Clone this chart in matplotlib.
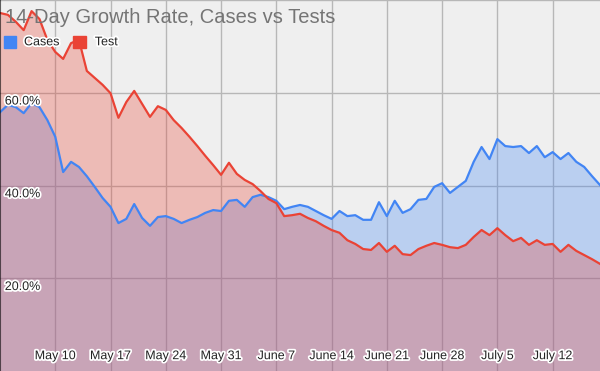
import matplotlib
matplotlib.use("Agg")
import matplotlib.pyplot as plt
import matplotlib.patheffects as pe
import pandas as pd

plt.rcParams['font.family'] = ['Liberation Sans', 'DejaVu Sans']

dates = pd.date_range("2020-05-03", "2020-07-18", freq="D")

# 14-day growth rate (%)
cases = [55.8, 57.4, 56.9, 55.6, 57.8, 56.9, 54.1, 50.5, 42.9, 45.1,
         44.0, 42.0, 39.7, 37.3, 35.4, 31.9, 32.8, 36.0, 33.0, 31.3,
         33.2, 33.4, 32.8, 31.9, 32.6, 33.2, 34.1, 34.7, 34.5, 36.7,
         36.9, 35.4, 37.5, 38.0, 37.5, 36.7, 34.9, 35.4, 35.8, 35.4,
         34.5, 33.6, 32.8, 34.5, 33.4, 33.6, 32.6, 32.6, 36.4, 33.4,
         36.7, 34.1, 34.9, 36.9, 37.1, 39.7, 40.5, 38.4, 39.7, 41.0,
         45.1, 48.3, 45.7, 50.0, 48.5, 48.3, 48.5, 47.0, 48.5, 46.1,
         47.2, 45.7, 47.0, 45.1, 44.0, 42.0, 40.1]
tests = [77.2, 76.8, 75.3, 73.5, 77.6, 75.9, 71.4, 68.8, 67.3, 70.7,
         71.4, 64.7, 63.2, 61.7, 59.9, 54.6, 58.0, 60.4, 57.6, 54.8,
         57.1, 56.3, 54.1, 52.4, 50.5, 48.5, 46.4, 44.4, 42.3, 44.9,
         42.5, 41.2, 40.3, 38.8, 37.1, 36.2, 33.4, 33.6, 33.9, 33.0,
         32.3, 31.3, 30.4, 29.8, 28.2, 27.4, 26.3, 26.1, 27.6, 25.7,
         27.0, 25.2, 25.0, 26.3, 27.0, 27.6, 27.2, 26.7, 26.5, 27.2,
         28.9, 30.4, 29.3, 30.8, 29.3, 28.0, 28.7, 27.2, 28.2, 27.2,
         27.4, 25.7, 27.2, 25.9, 25.0, 24.1, 23.1]

tick_dates = pd.date_range("2020-05-10", "2020-07-12", freq="7D")
tick_labels = ["May 10", "May 17", "May 24", "May 31", "June 7", "June 14",
               "June 21", "June 28", "July 5", "July 12"]
y_ticks = [20, 40, 60]

blue = "#4285f4"
red = "#ea4335"
halo = [pe.withStroke(linewidth=2.5, foreground="white")]

fig = plt.figure(figsize=(6, 3.71), dpi=100)
ax = fig.add_axes([0, 0, 1, 1])
ax.set_facecolor("#efefef")

ax.fill_between(dates, cases, 0, color=blue, alpha=0.3, lw=0)
ax.fill_between(dates, tests, 0, color=red, alpha=0.3, lw=0)
ax.plot(dates, cases, color=blue, lw=1.6, solid_joinstyle="round")
ax.plot(dates, tests, color=red, lw=1.6, solid_joinstyle="round")

ax.set_xlim(dates[0], dates[-1])
ax.set_ylim(0, 80)
ax.set_xticks(tick_dates)
ax.set_yticks([20, 40, 60, 80])
ax.grid(True, color="#b7b7b7", lw=1)
ax.set_axisbelow(True)
ax.tick_params(length=0, labelbottom=False, labelleft=False)
for s in ["top", "right", "bottom"]:
    ax.spines[s].set_visible(False)
ax.spines["left"].set_color("black")
ax.spines["left"].set_alpha(0.6)
ax.spines["left"].set_linewidth(1.5)

for d, lab in zip(tick_dates, tick_labels):
    ax.text(d, 3.2, lab, ha="center", va="center", fontsize=9,
            color="#222222", path_effects=halo)
for v in y_ticks:
    ax.text(0.008, v - 0.6, f"{v:.1f}%", transform=ax.get_yaxis_transform(),
            ha="left", va="top", fontsize=9, color="#222222", path_effects=halo)

ax.text(0.008, 0.953, "14-Day Growth Rate, Cases vs Tests", transform=ax.transAxes,
        ha="left", va="center", fontsize=14.5, color="#757575")

# legend
ax.add_patch(plt.Rectangle((0.007, 0.871), 0.019, 0.031, transform=ax.transAxes,
                           color=blue, clip_on=False))
ax.text(0.04, 0.886, "Cases", transform=ax.transAxes, ha="left", va="center",
        fontsize=9, color="#222222", path_effects=halo)
ax.add_patch(plt.Rectangle((0.122, 0.871), 0.021, 0.031, transform=ax.transAxes,
                           color=red, clip_on=False))
ax.text(0.158, 0.886, "Test", transform=ax.transAxes, ha="left", va="center",
        fontsize=9, color="#222222", path_effects=halo)

fig.savefig("out.png", dpi=100)
